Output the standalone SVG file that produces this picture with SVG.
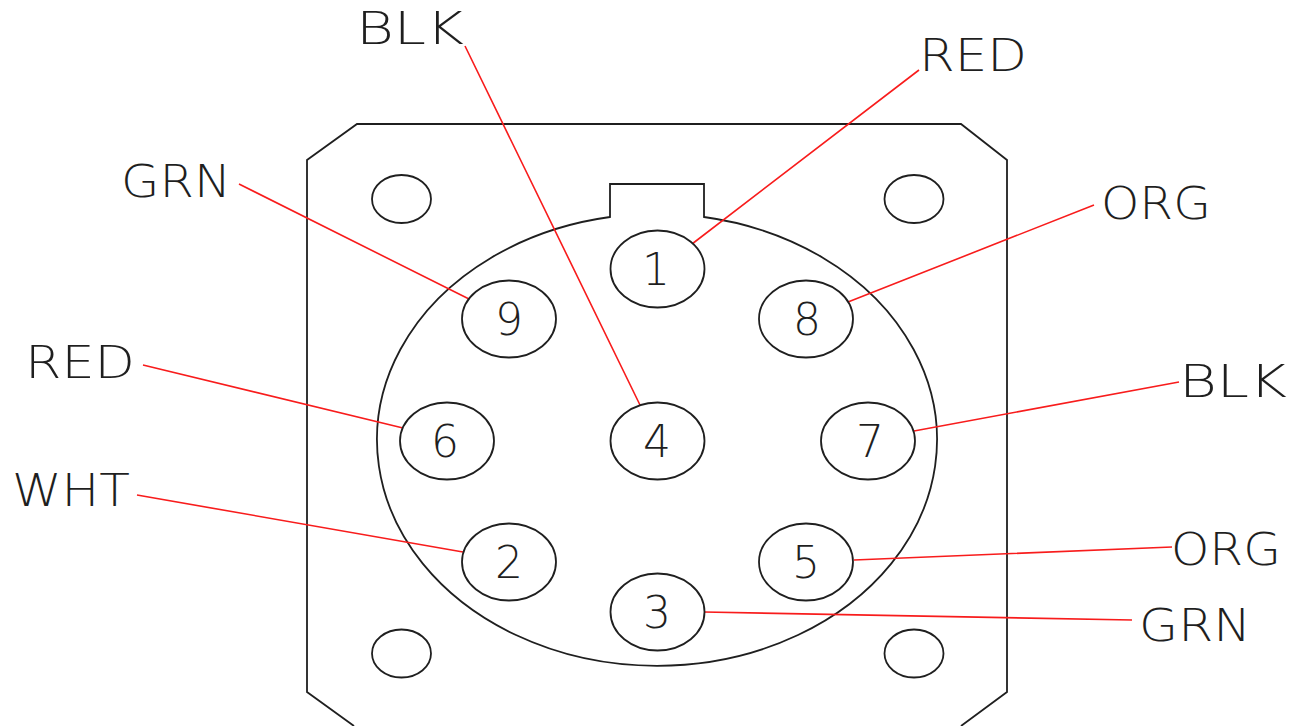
<svg xmlns="http://www.w3.org/2000/svg" width="1299" height="726" viewBox="0 0 1299 726">
<style>
.o{fill:none;stroke:#1f1f1f;stroke-width:1.8}
.p{fill:#fff;stroke:#1f1f1f;stroke-width:1.8}
.h{fill:none;stroke:#1f1f1f;stroke-width:1.8}
.w{fill:none;stroke:#f81c1c;stroke-width:1.6}
text{font-family:"DejaVu Sans",sans-serif;font-weight:200;fill:#1f1f1f;text-anchor:middle}
.l{font-size:44px}
.n{font-size:44px}
</style>
<rect width="1299" height="726" fill="#fff"/>
<g id="body">
<path class="o" d="M354 726L307 692V160L357 124H961L1007 160V692L961 726"/>
<ellipse class="h" cx="401.500" cy="199" rx="29.500" ry="24"/>
<ellipse class="h" cx="914" cy="199" rx="29.500" ry="24"/>
<ellipse class="h" cx="401.500" cy="653.500" rx="29.500" ry="24"/>
<ellipse class="h" cx="914" cy="653.500" rx="29.500" ry="24"/>
<path class="o" d="M610 217V184H704V217A280 226 0 1 1 610 217Z"/>
</g>
<g id="connectors">
<path class="w" d="M692 244L919 70M465 46L640 405M239 184L469 299M143 365L403 428M137 495L463 552M848 302L1094 205M914 431L1179 382M854 560L1172 547M704 612L1132 620"/>
</g>
<g id="pin1"><ellipse class="p" cx="657.500" cy="269" rx="47" ry="38.500"/><text class="n" x="656" y="285">1</text></g>
<g id="pin2"><ellipse class="p" cx="509" cy="562" rx="47" ry="38.500"/><text class="n" x="509" y="578">2</text></g>
<g id="pin3"><ellipse class="p" cx="657.500" cy="612" rx="47" ry="38.500"/><text class="n" x="657" y="628">3</text></g>
<g id="pin4"><ellipse class="p" cx="657.500" cy="441" rx="47" ry="38.500"/><text class="n" x="657" y="457">4</text></g>
<g id="pin5"><ellipse class="p" cx="806" cy="562" rx="47" ry="38.500"/><text class="n" x="806" y="578">5</text></g>
<g id="pin6"><ellipse class="p" cx="447" cy="441" rx="47" ry="38.500"/><text class="n" x="445" y="457">6</text></g>
<g id="pin7"><ellipse class="p" cx="868" cy="441" rx="47" ry="38.500"/><text class="n" x="870" y="457">7</text></g>
<g id="pin8"><ellipse class="p" cx="806" cy="319" rx="47" ry="38.500"/><text class="n" x="807" y="335">8</text></g>
<g id="pin9"><ellipse class="p" cx="509" cy="319" rx="47" ry="38.500"/><text class="n" x="509" y="335">9</text></g>
<g id="labels">
<text class="l" x="410" y="44" textLength="108" lengthAdjust="spacingAndGlyphs">BLK</text>
<text class="l" x="973" y="71" textLength="108" lengthAdjust="spacingAndGlyphs">RED</text>
<text class="l" x="176" y="197" textLength="110" lengthAdjust="spacingAndGlyphs">GRN</text>
<text class="l" x="1156" y="219" textLength="110" lengthAdjust="spacingAndGlyphs">ORG</text>
<text class="l" x="80" y="378" textLength="110" lengthAdjust="spacingAndGlyphs">RED</text>
<text class="l" x="1233" y="397" textLength="108" lengthAdjust="spacingAndGlyphs">BLK</text>
<text class="l" x="71" y="506" textLength="118" lengthAdjust="spacingAndGlyphs">WHT</text>
<text class="l" x="1226" y="565" textLength="110" lengthAdjust="spacingAndGlyphs">ORG</text>
<text class="l" x="1195" y="641" textLength="112" lengthAdjust="spacingAndGlyphs">GRN</text>
</g>
</svg>
